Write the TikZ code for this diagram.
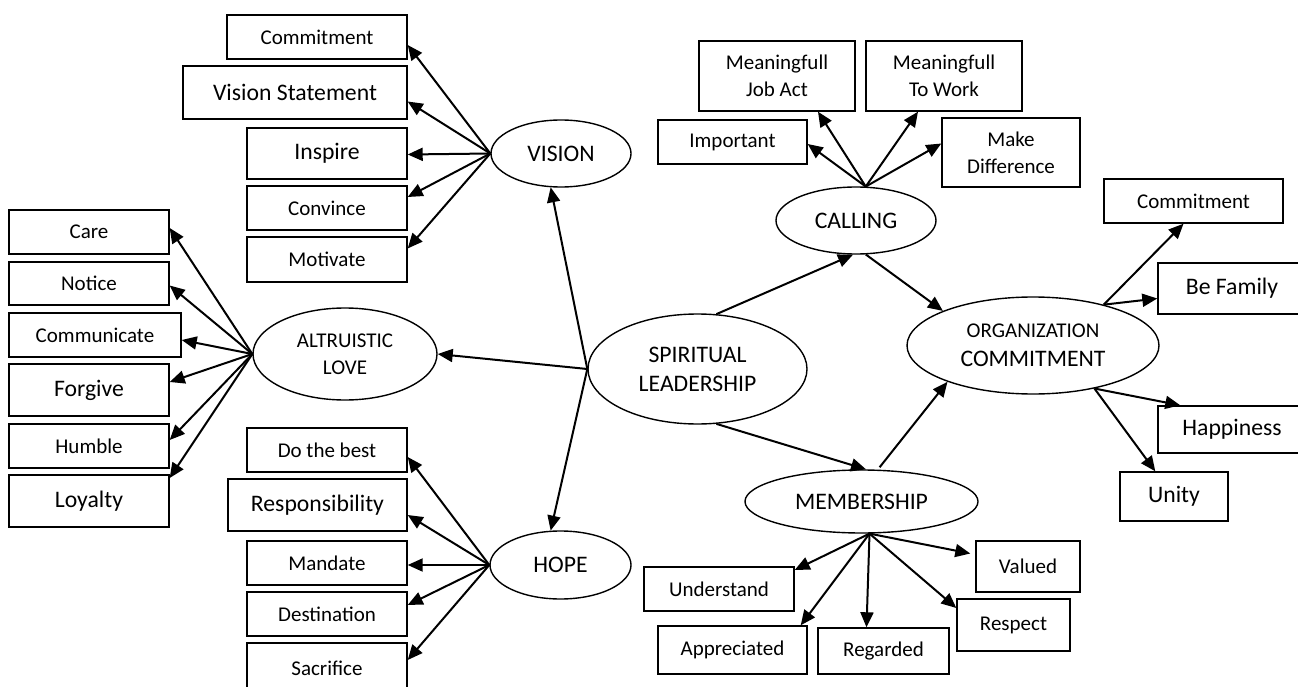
\documentclass[tikz,border=0pt]{standalone}
\usepackage{fontspec}
\setmainfont{Carlito}
\usetikzlibrary{arrows.meta,calc,shapes.geometric}

\begin{document}
\begin{tikzpicture}[x=1pt,y=-1pt,
  sbox/.style={draw, line width=1.4pt, inner sep=0pt, minimum width=160pt, minimum height=44pt, align=center, font=\fontsize{21}{27}\selectfont},
  bbox/.style={sbox, font=\fontsize{23.7}{29}\selectfont},
  oval/.style={draw, ellipse, line width=1.4pt, inner sep=0pt, align=center, font=\fontsize{23.7}{29}\selectfont},
  arr/.style={-{Triangle[length=15pt,width=13pt]}, line width=2pt}]
  \useasboundingbox (0,0) rectangle (1298,687);

  % vision
  \node[sbox, minimum width=180pt] (vcom) at (317,37) {Commitment};
  \node[bbox, minimum width=224pt, minimum height=53pt] (vstat) at (295,92.5) {Vision Statement};
  \node[bbox, minimum height=51pt] (insp) at (327,153.5) {Inspire};
  \node[sbox] (conv) at (327,208) {Convince};
  \node[sbox, minimum height=45pt] (moti) at (327,259.5) {Motivate};
  \node[oval, minimum width=140pt, minimum height=67pt] (vis) at (561,153.5) {VISION};

  % altruistic love
  \node[oval, font=\fontsize{21}{27}\selectfont, minimum width=184pt, minimum height=92pt] (alt) at (345,354) {ALTRUISTIC\\LOVE};
  \node[sbox] (care) at (89,232) {Care};
  \node[sbox, minimum height=43pt] (noti) at (89,283.5) {Notice};
  \node[sbox, minimum width=172pt] (comm) at (95,335) {Communicate};
  \node[bbox, minimum height=52pt] (forg) at (89,390) {Forgive};
  \node[sbox] (humb) at (89,446) {Humble};
  \node[bbox, minimum height=52pt] (loya) at (89,501) {Loyalty};

  \node[oval, minimum width=219pt, minimum height=110pt] (sl) at (697.5,369) {SPIRITUAL\\LEADERSHIP};

  % hope
  \node[oval, minimum width=141pt, minimum height=68pt] (hope) at (560.5,565) {HOPE};
  \node[sbox] (best) at (327,450) {Do the best};
  \node[bbox, minimum width=179pt, minimum height=52pt] (resp) at (317.5,505) {Responsibility};
  \node[sbox] (mand) at (327,563) {Mandate};
  \node[sbox] (dest) at (327,614) {Destination};
  \node[sbox, minimum height=50pt] (sacr) at (327,668) {Sacrifice};

  % calling
  \node[oval, minimum width=160pt, minimum height=67pt] (cal) at (856,220.5) {CALLING};
  \node[sbox, minimum width=149pt] (imp) at (732.5,142) {Important};
  \node[sbox, minimum width=156pt, minimum height=70pt] (job) at (777,76) {Meaningfull\\Job Act};
  \node[sbox, minimum width=156pt, minimum height=70pt] (work) at (944,76) {Meaningfull\\To Work};
  \node[sbox, minimum width=138pt, minimum height=69pt] (diff) at (1011,152.5) {Make\\Difference};

  % organization commitment
  \node[oval, minimum width=252pt, minimum height=97pt] (org) at (1033,345.5) {{\fontsize{21}{27}\selectfont ORGANIZATION}\\COMMITMENT};
  \node[sbox, minimum width=179pt] (rcom) at (1193.5,201) {Commitment};
  \node[bbox, minimum width=148pt, minimum height=51pt] (fam) at (1232,288.5) {Be Family};
  \node[bbox, minimum width=148pt, minimum height=47pt] (hap) at (1232,429.5) {Happiness};
  \node[bbox, minimum width=108pt, minimum height=49pt] (uni) at (1174,496.5) {Unity};

  % membership
  \node[oval, minimum width=233pt, minimum height=63pt] (mem) at (861.5,501.5) {MEMBERSHIP};
  \node[sbox, minimum width=150pt] (und) at (719,589) {Understand};
  \node[sbox, minimum width=149pt, minimum height=48pt] (app) at (732.5,650) {Appreciated};
  \node[sbox, minimum width=131pt, minimum height=46pt] (reg) at (883.5,651) {Regarded};
  \node[sbox, minimum width=113pt, minimum height=52pt] (res) at (1013.5,625) {Respect};
  \node[sbox, minimum width=104pt, minimum height=51pt] (val) at (1028,566.5) {Valued};

  % fans
  \foreach \t/\d in {vcom/8,vstat/9,insp/1,conv/-11,moti/-11}
    \draw[arr] (vis.west) -- ($(\t.east)+(0,\d)$);
  \foreach \t/\d in {care/-4,noti/2,comm/5,forg/-8,humb/-6,loya/-23}
    \draw[arr] (alt.west) -- ($(\t.east)+(0,\d)$);
  \foreach \t/\d in {best/7,resp/10,mand/2,dest/-9,sacr/-8}
    \draw[arr] (hope.west) -- ($(\t.east)+(0,\d)$);

  \draw[arr] (cal.74) -- ($(imp.east)+(0,2)$);
  \draw[arr] (cal.74) -- ($(job.south)+(41,0)$);
  \draw[arr] (cal.74) -- ($(work.south)+(-26,0)$);
  \draw[arr] (cal.74) -- ($(diff.west)+(0,-9)$);

  \draw[arr] (org.30) -- ($(rcom.south)+(-10,0)$);
  \draw[arr] (org.30) -- ($(fam.west)+(0,10)$);
  \draw[arr] (org.-35) -- ($(hap.north west)+(23,0)$);
  \draw[arr] (org.-35) -- ($(uni.north west)+(36,0)$);

  \draw[arr] (mem.-76) -- ($(und.east)+(0,-19)$);
  \draw[arr] (mem.-76) -- ($(app.north east)+(-7,0)$);
  \draw[arr] (mem.-76) -- ($(reg.north)+(-17,0)$);
  \draw[arr] (mem.-76) -- ($(res.west)+(0,-17)$);
  \draw[arr] (mem.-76) -- ($(val.west)+(-5,-13)$);

  % main paths
  \draw[arr] (sl.west) -- (vis.-107);
  \draw[arr] (sl.west) -- (alt.east);
  \draw[arr] (sl.west) -- (hope.106);
  \draw[arr] (sl.71) -- (cal.-95);
  \draw[arr] (sl.-71) -- (mem.82);
  \draw[arr] (cal.-74) -- (org.159);
  \draw[arr, shorten <=3pt] (mem.63) -- (org.-157);
\end{tikzpicture}
\end{document}
